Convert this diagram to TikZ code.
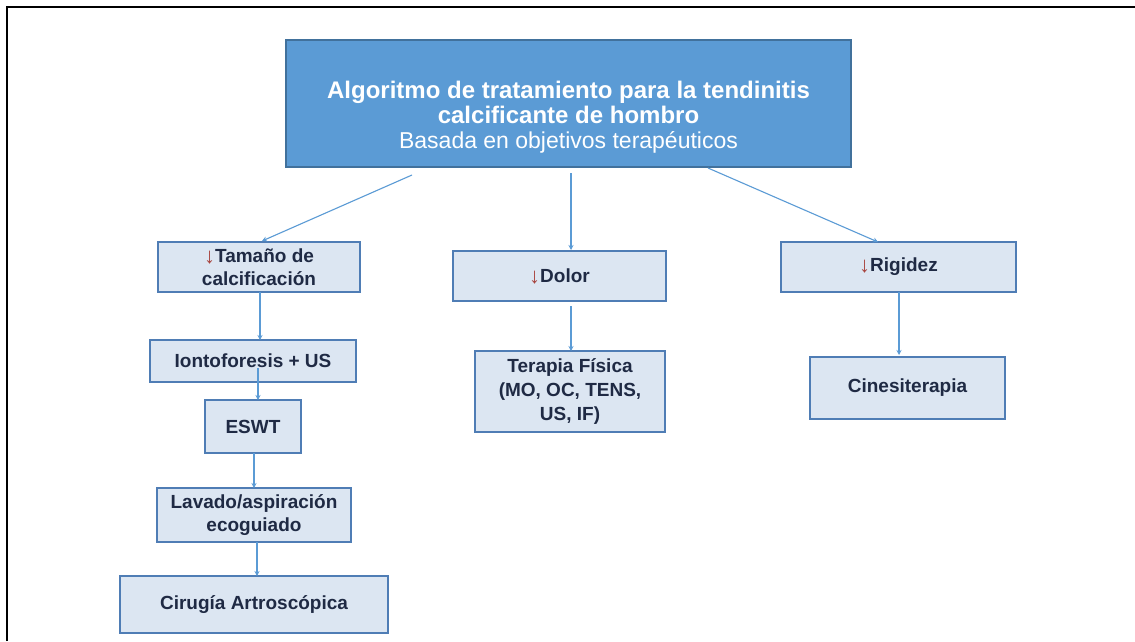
\documentclass[tikz,border=0pt]{standalone}
\usepackage{fontspec}
\setmainfont{Liberation Sans}
\usetikzlibrary{arrows.meta}
\definecolor{topfill}{HTML}{5B9BD5}
\definecolor{topdraw}{HTML}{41719C}
\definecolor{boxfill}{HTML}{DCE6F2}
\definecolor{boxdraw}{HTML}{4F7DB5}
\definecolor{txt}{HTML}{1F2A44}
\definecolor{arr}{HTML}{5B9BD5}
\definecolor{dn}{HTML}{A8443F}
\newcommand{\dnar}{{\color{dn}\mdseries\fontsize{22}{17}\selectfont\raisebox{-1pt}{↓}}}
\begin{document}
\begin{tikzpicture}[x=1pt,y=-1pt,
  topbox/.style={draw=topdraw,line width=1.5pt,fill=topfill},
  smallbox/.style={draw=boxdraw,line width=1.2pt,fill=boxfill},
  lbl/.style={text=txt,font=\bfseries\fontsize{19}{23}\selectfont,align=center,inner sep=0pt},
  conn/.style={draw=arr,line width=1.1pt,-{Stealth[length=5pt,width=5pt]}}]
\useasboundingbox (0,0) rectangle (1135,641);
\fill[white] (0,0) rectangle (1135,641);
\draw[line width=2pt,black] (7,641) -- (7,7) -- (1135,7);
% top box
\path[topbox] (286,40) rectangle (851,167);
\node[text=white,align=center,inner sep=0pt,font=\fontsize{24}{25}\selectfont] (top) at (568.5,117)
  {\bfseries Algoritmo de tratamiento para la tendinitis\\
   \bfseries calcificante de hombro\\
   \fontsize{23}{25}\selectfont Basada en objetivos terapéuticos};
% boxes
\path[smallbox] (158,242) rectangle (360,292);
\node[lbl] (tam) at (259,267) {\dnar Tamaño de\\calcificación};
\path[smallbox] (453,251) rectangle (666,301);
\node[lbl] (dol) at (559.5,276) {\dnar Dolor};
\path[smallbox] (781,242) rectangle (1016,292);
\node[lbl] (rig) at (898.5,267) {\dnar Rigidez};
\path[smallbox] (150,340) rectangle (356,382);
\node[lbl] (ion) at (253,361) {Iontoforesis + US};
\path[smallbox] (205,400) rectangle (301,453);
\node[lbl] (esw) at (253,426.5) {ESWT};
\path[smallbox] (157,488) rectangle (351,542);
\node[lbl] (lav) at (254,515) {Lavado/aspiración\\ecoguiado};
\path[smallbox] (120,576) rectangle (388,633);
\node[lbl] (cir) at (254,604.5) {Cirugía Artroscópica};
\path[smallbox] (475,351) rectangle (665,432);
\node[lbl,font=\bfseries\fontsize{19}{24}\selectfont] (ter) at (570,391.5) {Terapia Física\\(MO, OC, TENS,\\US, IF)};
\path[smallbox] (810,357) rectangle (1005,419);
\node[lbl] (cin) at (907.5,388) {Cinesiterapia};
% anchor coordinates
\coordinate (a1) at (412,175); \coordinate (b1) at (262,241);
\coordinate (a2) at (571,173); \coordinate (b2) at (571,250);
\coordinate (a3) at (708,168); \coordinate (b3) at (878,242);
\coordinate (a4) at (260,292); \coordinate (b4) at (260,340);
\coordinate (a5) at (258,368); \coordinate (b5) at (258,400);
\coordinate (a6) at (254,453); \coordinate (b6) at (254,488);
\coordinate (a7) at (257,542); \coordinate (b7) at (257,576);
\coordinate (a8) at (571,306); \coordinate (b8) at (571,351);
\coordinate (a9) at (899,292); \coordinate (b9) at (899,355);
\foreach \i in {1,...,9} {\draw[conn] (a\i) -- (b\i);}
\end{tikzpicture}
\end{document}
